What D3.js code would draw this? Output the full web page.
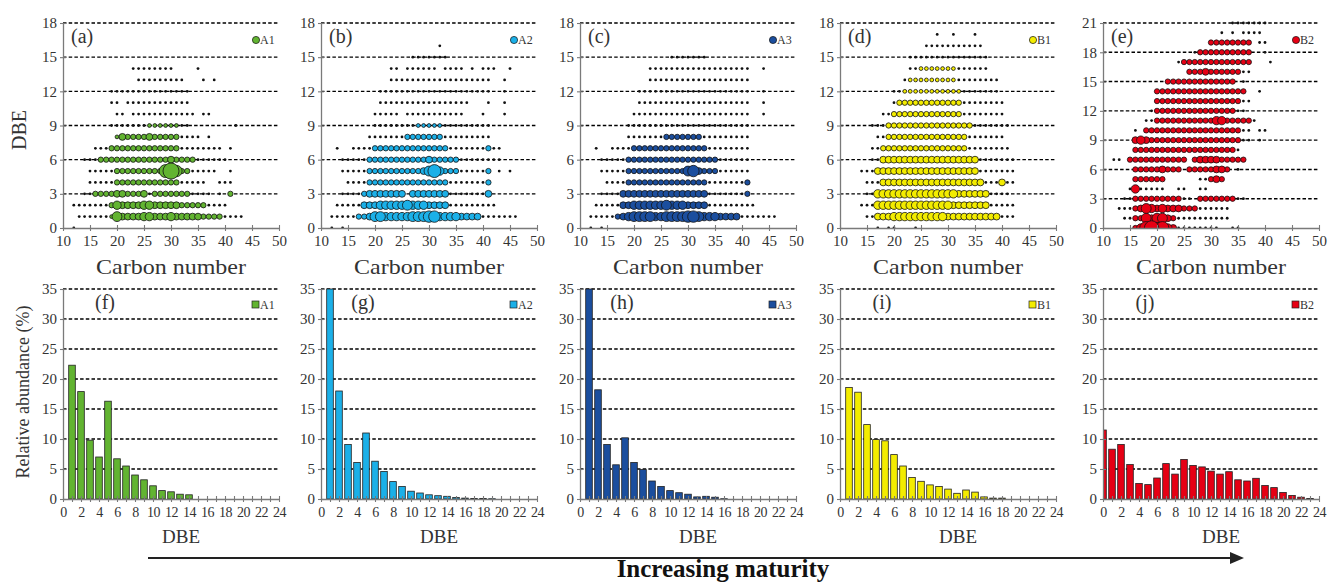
<!DOCTYPE html>
<html>
<head>
<meta charset="utf-8">
<script src="https://cdn.jsdelivr.net/npm/d3@7/dist/d3.min.js"></script>
<style>
body { margin: 0; background: #fff; }
svg { display: block; font-family: "Liberation Serif", "Times New Roman", serif; }
</style>
</head>
<body>
<script>
var sampleNames = ['A1', 'A2', 'A3', 'B1', 'B2'];
var sampleColors = ['#62b431', '#1bb0e8', '#1b4e9e', '#f3ec00', '#e60014'];
var topLetters = ['(a)', '(b)', '(c)', '(d)', '(e)'];
var botLetters = ['(f)', '(g)', '(h)', '(i)', '(j)'];
var dbeTop = [18, 18, 18, 18, 21];
var carbonTicks = [10, 15, 20, 25, 30, 35, 40, 45, 50];
var abundTicks = [0, 5, 10, 15, 20, 25, 30, 35];
var dbeBins = d3.range(0, 25);

// bubble rows, index = DBE: [first carbon number, one char per carbon]
// ' ' nothing, '.' tiny black dot, '1'..'9' relative size of coloured bubble
var scatterA1 = [
	[12, '.'],
	[13, '......153333443334333332222....'],
	[12, '.......243333443333322222....'],
	[14, '..2222332223.2222222.... . 2'],
	[15, '.....222222222222.....  ...'],
	[15, '.....22222222279622.....  .'],
	[14, '...222222222222232222......'],
	[16, '...2222222222222........ .'],
	[20, '132222322222.... .'],
	[19, '.......111111..        .'],
	[20, '.. ............ ..'],
	[19, '.. ............'],
	[19, '...............'],
	[24, '.........   . .'],
	[23, '........    .']
];
var scatterA2 = [
	[12, '. .'],
	[12, '.....22355444445556644443333.......'],
	[13, '.....3334444454443333.........'],
	[14, '....23333333 3333333.......3'],
	[15, '....222222222222222.......2'],
	[14, '.....22222222223574222.....2 . .'],
	[14, '.....22222222222322222........'],
	[13, '.  ....22222222222222.......2..'],
	[19, '.......2222222.........'],
	[20, '........11111.........'],
	[20, '..... ...........   .   .'],
	[21, '.................   .  .'],
	[21, '.....................  .'],
	[23, '...................  .'],
	[23, '.. ...... .... . ...  .'],
	[27, '.......'],
	[32, '.']
];
var scatterA3 = [
	[12, '. .'],
	[12, '.....23455554455556654443333.......'],
	[13, '.....3344444454443333.........'],
	[14, '....3333333333333333.......2'],
	[15, '....222222222222222.......2'],
	[14, '.....22222222222563222......'],
	[14, '.....22222222222222222......'],
	[13, '.  ....22222222222222........'],
	[19, '.......2222222.........'],
	[19, '.......................'],
	[20, '......................  .'],
	[21, '.....................  .'],
	[21, '.....................  .'],
	[23, '...................'],
	[23, '...................  .'],
	[27, '.......']
];
var scatterB1 = [
	[17, '. ..   .'],
	[15, '..33344444444443333333333...'],
	[14, '...444444444444443333333.....'],
	[15, '..444444444444444333333....'],
	[15, '...3333333333333333333...3..'],
	[14, '...3333333333333333333.......'],
	[16, '..333333333333333333.......'],
	[16, '..2222222222222222........'],
	[17, '..222222222222222.......'],
	[16, '...2222222222222222.......'],
	[18, '..2222222222222........'],
	[20, '.222222222222........'],
	[20, '..11111111111.......'],
	[22, '.111111111........'],
	[23, '..1111111......'],
	[23, '...............'],
	[26, '...........'],
	[28, '.  .   .']
];
var scatterB2 = [
	[16, '24786743........  ..'],
	[14, '..22535532..........'],
	[13, '...235434333222......'],
	[14, '..222222222.. 2222222..'],
	[15, '.4.....  ..  ..'],
	[16, '222222      ..232'],
	[16, '222223222 22222332 .'],
	[12, '.. 22222222222 2333322222'],
	[16, '2222222222222222222.'],
	[16, '34322222222222222222.. .'],
	[16, '. 222222222222222222.. ..'],
	[18, '..222222222224422222.'],
	[19, '.222222222222222..'],
	[20, '2222222222222222..'],
	[20, '22222222222222222  .'],
	[22, '2222222222222 .'],
	[26, '2223222222..'],
	[24, '.2222222222222   .'],
	[27, '.2222222222  .'],
	[30, '22222222 ..'],
	[32, '. . ....'],
	[34, '.......']
];

// relative abundance (%) for DBE 0..24
var barA1 = [0, 22.3, 17.9, 9.8, 7.0, 16.3, 6.7, 5.5, 4.0, 3.2, 2.2, 1.4, 1.2, 0.8, 0.7, 0, 0, 0, 0, 0, 0, 0, 0, 0, 0];
var barA2 = [0, 35, 18.0, 9.1, 6.1, 11.0, 6.3, 4.6, 2.9, 2.1, 1.3, 1.0, 0.7, 0.55, 0.45, 0.25, 0.15, 0.1, 0.1, 0.05, 0, 0, 0, 0, 0];
var barA3 = [0, 35, 18.2, 9.1, 5.7, 10.2, 6.1, 4.9, 3.0, 2.1, 1.4, 1.05, 0.8, 0.35, 0.45, 0.3, 0.05, 0, 0, 0, 0, 0, 0, 0, 0];
var barB1 = [0, 18.6, 17.8, 12.4, 9.9, 9.7, 7.4, 5.5, 3.6, 2.95, 2.35, 2.1, 1.65, 0.95, 1.5, 1.15, 0.35, 0.15, 0.15, 0, 0, 0, 0, 0, 0];
var barB2 = [11.5, 8.3, 9.1, 5.75, 2.6, 2.4, 3.5, 5.9, 4.15, 6.6, 5.6, 5.35, 4.65, 4.15, 4.55, 3.2, 3.0, 3.45, 2.25, 1.9, 1.1, 0.6, 0.3, 0.1, 0];

var scatterSets = [scatterA1, scatterA2, scatterA3, scatterB1, scatterB2];
var barSets = [barA1, barA2, barA3, barB1, barB2];

var panelX = [63, 321, 580, 840, 1103];
var panelW = 216;
var sTop = 23, sBot = 228, bTop = 289, bBot = 499;
var gridColor = '#000', axisColor = '#7a7a7a', textColor = '#333';

var svg = d3.select('body').append('svg').attr('width', 1344).attr('height', 584);
var defs = svg.append('defs');
var rScale = d3.scaleLinear().domain([1, 9]).range([1.9, 8]);

function styleAxis(g, vertical) {
	g.select('.domain').attr('stroke', axisColor).attr('stroke-width', 1.3);
	g.selectAll('.tick line').attr('stroke', axisColor).attr('stroke-width', 1.1);
	if (vertical) g.selectAll('.tick line').attr('x1', -3).attr('x2', 3);
	else g.selectAll('.tick line').attr('y1', -3).attr('y2', 3);
	g.selectAll('.tick text').attr('fill', textColor).attr('font-size', 15).attr('font-family', null);
	g.attr('font-family', null);
}

function grid(g, y, ticks, x0) {
	g.selectAll('line.grid').data(ticks).enter().append('line').attr('class', 'grid')
		.attr('x1', x0).attr('x2', x0 + panelW)
		.attr('y1', d => y(d)).attr('y2', d => y(d))
		.attr('stroke', gridColor).attr('stroke-width', 1.4).attr('stroke-dasharray', '3.5,2.2');
}

function drawScatter(i) {
	var x0 = panelX[i];
	var g = svg.append('g');
	var x = d3.scaleLinear().domain([10, 50]).range([x0, x0 + panelW]);
	var y = d3.scaleLinear().domain([0, dbeTop[i]]).range([sBot, sTop]);
	var yTicks = d3.range(0, dbeTop[i] + 1, 3);
	grid(g, y, yTicks.slice(1), x0);

	var pts = [];
	scatterSets[i].forEach(function(row, dbe) {
		for (var k = 0; k < row[1].length; k++) {
			var c = row[1][k];
			if (c !== ' ') pts.push({ c: row[0] + k, dbe: dbe, s: c === '.' ? 0 : +c });
		}
	});
	pts.sort((a, b) => a.s - b.s);

	defs.append('clipPath').attr('id', 'clipS' + i).append('rect')
		.attr('x', x0 - 10).attr('y', 0).attr('width', panelW + 20).attr('height', sBot);
	g.append('g').attr('clip-path', 'url(#clipS' + i + ')')
		.selectAll('circle').data(pts).enter().append('circle')
		.attr('cx', d => x(d.c)).attr('cy', d => y(d.dbe))
		.attr('r', d => d.s ? rScale(d.s) : 1.4)
		.attr('fill', d => d.s ? sampleColors[i] : '#111')
		.attr('stroke', d => d.s ? '#111' : 'none')
		.attr('stroke-width', 0.8);

	var xa = g.append('g').attr('transform', 'translate(0,' + sBot + ')')
		.call(d3.axisBottom(x).tickValues(carbonTicks).tickSize(3).tickSizeOuter(0).tickPadding(4));
	styleAxis(xa, false);
	var ya = g.append('g').attr('transform', 'translate(' + x0 + ',0)')
		.call(d3.axisLeft(y).tickValues(yTicks).tickSize(3).tickSizeOuter(0).tickPadding(3));
	styleAxis(ya, true);

	g.append('text').attr('x', x0 + 108).attr('y', 274).attr('text-anchor', 'middle')
		.attr('font-size', 21).attr('fill', textColor).attr('textLength', 150).attr('lengthAdjust', 'spacingAndGlyphs')
		.text('Carbon number');
	g.append('text').attr('x', x0 + 8).attr('y', 43).attr('font-size', 20).attr('fill', textColor).text(topLetters[i]);
	g.append('circle').attr('cx', x0 + panelW - 23).attr('cy', 40).attr('r', 3.6)
		.attr('fill', sampleColors[i]).attr('stroke', '#111').attr('stroke-width', 0.7);
	g.append('text').attr('x', x0 + panelW - 19).attr('y', 44).attr('font-size', 12).attr('fill', textColor).text(sampleNames[i]);
}

function drawBars(i) {
	var x0 = panelX[i];
	var g = svg.append('g');
	var x = d3.scaleLinear().domain([0, 24]).range([x0, x0 + panelW]);
	var y = d3.scaleLinear().domain([0, 35]).range([bBot, bTop]).clamp(true);
	grid(g, y, abundTicks.slice(1), x0);

	defs.append('clipPath').attr('id', 'clipB' + i).append('rect')
		.attr('x', x0).attr('y', bTop - 2).attr('width', panelW + 10).attr('height', bBot - bTop + 2);
	g.append('g').attr('clip-path', 'url(#clipB' + i + ')')
		.selectAll('rect').data(barSets[i]).enter().append('rect')
		.attr('x', (d, k) => x(dbeBins[k]) - 3.3).attr('width', 6.6)
		.attr('y', d => y(d)).attr('height', d => bBot - y(d))
		.attr('fill', sampleColors[i]).attr('stroke', '#222').attr('stroke-width', 0.8);

	var xa = g.append('g').attr('transform', 'translate(0,' + bBot + ')')
		.call(d3.axisBottom(x).tickValues(dbeBins).tickFormat(d => d % 2 ? '' : d).tickSize(3).tickSizeOuter(0).tickPadding(5));
	styleAxis(xa, false);
	xa.selectAll('.tick text').attr('font-size', 14).attr('letter-spacing', -0.6);
	var ya = g.append('g').attr('transform', 'translate(' + x0 + ',0)')
		.call(d3.axisLeft(y).tickValues(abundTicks).tickSize(3).tickSizeOuter(0).tickPadding(3));
	styleAxis(ya, true);

	g.append('text').attr('x', x0 + 118).attr('y', 543).attr('text-anchor', 'middle')
		.attr('font-size', 19).attr('fill', textColor).text('DBE');
	g.append('text').attr('x', x0 + 42).attr('y', 309).attr('text-anchor', 'middle')
		.attr('font-size', 20).attr('fill', textColor).text(botLetters[i]);
	g.append('rect').attr('x', x0 + panelW - 27).attr('y', 301).attr('width', 7).attr('height', 7)
		.attr('fill', sampleColors[i]).attr('stroke', '#222').attr('stroke-width', 0.7);
	g.append('text').attr('x', x0 + panelW - 19).attr('y', 309).attr('font-size', 12).attr('fill', textColor).text(sampleNames[i]);
}

d3.range(5).forEach(drawScatter);
d3.range(5).forEach(drawBars);

svg.append('text').attr('transform', 'translate(26,130) rotate(-90)').attr('text-anchor', 'middle')
	.attr('font-size', 20).attr('fill', textColor).text('DBE');
svg.append('text').attr('transform', 'translate(29,392) rotate(-90)').attr('text-anchor', 'middle')
	.attr('font-size', 18).attr('fill', textColor).text('Relative abundance (%)');

svg.append('line').attr('x1', 148).attr('x2', 1232).attr('y1', 558).attr('y2', 558)
	.attr('stroke', '#222').attr('stroke-width', 2);
svg.append('path').attr('d', 'M1230,552 L1244,558 L1230,564 Z').attr('fill', '#222');
svg.append('text').attr('x', 723).attr('y', 577).attr('text-anchor', 'middle')
	.attr('font-size', 25).attr('font-weight', 'bold').attr('fill', '#111').text('Increasing maturity');
</script>
</body>
</html>
